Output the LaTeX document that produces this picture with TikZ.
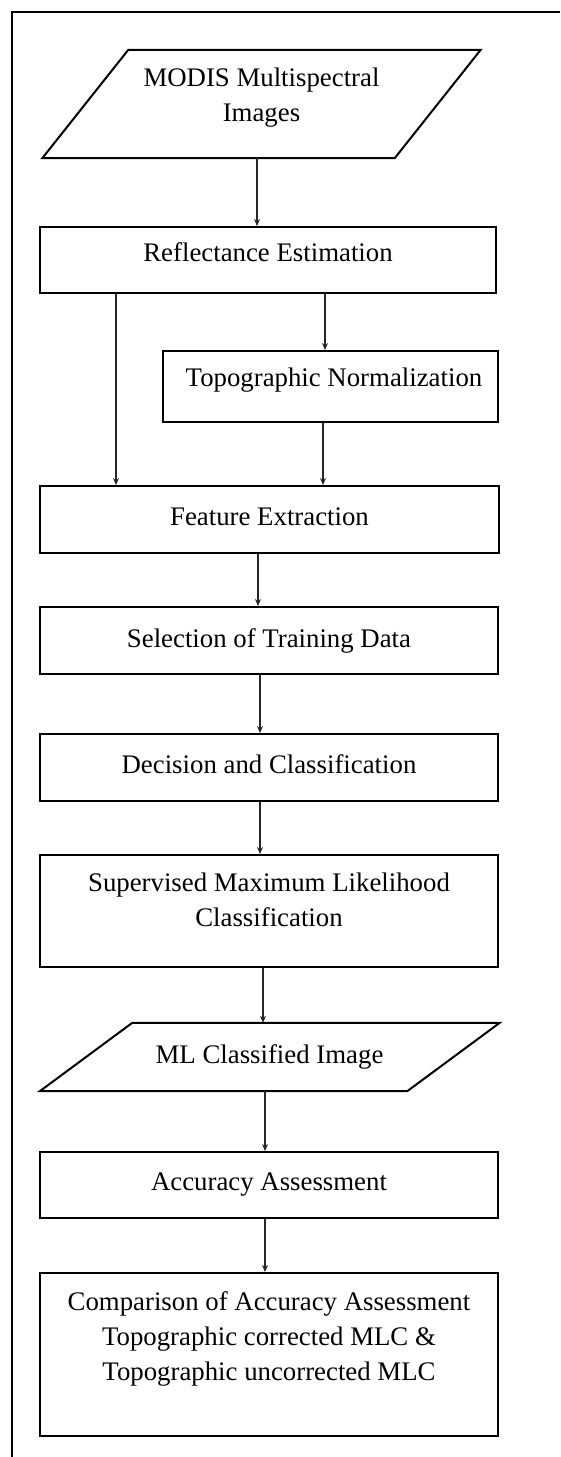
\documentclass[tikz,border=0pt]{standalone}
\usepackage{fontspec}
\setmainfont{Liberation Serif}
\usetikzlibrary{arrows.meta}
\newcommand\stagefont{\fontsize{26.8}{35}\selectfont}
\tikzset{
  stage/.style={draw, line width=2pt, minimum width=458pt, inner sep=0pt},
  io/.style={inner sep=0pt},
  txt/.style={align=center, font=\stagefont, inner sep=0pt},
  flow/.style={line width=1.4pt, draw=black!85, -{Stealth[length=7pt,width=6pt]}},
  frame/.style={line width=2pt}
}
\begin{document}
\begin{tikzpicture}[x=1pt, y=-1pt]
  \useasboundingbox (0,0) rectangle (560,1457);
  % Frame
  \draw[frame] (560,12) -- (12,12) -- (12,1457);
  % Nodes
  \node[io, minimum width=352pt, minimum height=108pt, label={[txt, yshift=6.5pt]center:MODIS Multispectral\\Images}] (modis) at (261.5,104) {};
  \node[stage, minimum width=456pt, minimum height=66pt, label={[txt, yshift=8pt]center:Reflectance Estimation}] (refl) at (268,260) {};
  \node[stage, minimum width=335pt, minimum height=71pt, label={[txt, yshift=6pt, xshift=3.5pt]center:Topographic Normalization}] (topo) at (330.5,386.5) {};
  \node[stage, minimum width=459pt, minimum height=67pt, label={[txt, yshift=2.5pt]center:Feature Extraction}] (feat) at (269.5,519.5) {};
  \node[stage, minimum height=67pt, label={[txt]center:Selection of Training Data}] (sel) at (269,640.5) {};
  \node[stage, minimum height=67pt, label={[txt, yshift=3.5pt]center:Decision and Classification}] (dec) at (269,767.5) {};
  \node[stage, minimum height=112pt, label={[txt, yshift=11pt]center:Supervised Maximum Likelihood\\Classification}] (sup) at (269,911) {};
  \node[io, minimum width=367pt, minimum height=68pt, label={[txt]center:ML Classified Image}] (ml) at (269.5,1057) {};
  \node[stage, minimum height=66pt, label={[txt]center:Accuracy Assessment}] (acc) at (269,1185) {};
  \node[stage, minimum height=163pt, label={[txt, yshift=16pt]center:Comparison of Accuracy Assessment\\Topographic corrected MLC \&\\Topographic uncorrected MLC}] (comp) at (269,1354.5) {};
  % Parallelograms
  \draw[line width=2pt] ([xshift=43pt]modis.north west) -- ([xshift=43pt]modis.north east)
    -- ([xshift=-43pt]modis.south east) -- ([xshift=-43pt]modis.south west) -- cycle;
  \draw[line width=2pt] ([xshift=46.5pt]ml.north west) -- ([xshift=46.5pt]ml.north east)
    -- ([xshift=-46pt]ml.south east) -- ([xshift=-46pt]ml.south west) -- cycle;
  % Edges
  \draw[flow] ([xshift=-4.5pt]modis.south) -- ([xshift=-4.5pt]modis.south |- refl.north);
  \draw[flow] ([xshift=-152pt]refl.south) -- ([xshift=-152pt]refl.south |- feat.north);
  \draw[flow] ([xshift=57pt]refl.south) -- ([xshift=57pt]refl.south |- topo.north);
  \draw[flow] ([xshift=-7.5pt]topo.south) -- ([xshift=-7.5pt]topo.south |- feat.north);
  \draw[flow] ([xshift=-11.5pt]feat.south) -- ([xshift=-11.5pt]feat.south |- sel.north);
  \draw[flow] ([xshift=-9pt]sel.south) -- ([xshift=-9pt]sel.south |- dec.north);
  \draw[flow] ([xshift=-9pt]dec.south) -- ([xshift=-9pt]dec.south |- sup.north);
  \draw[flow] ([xshift=-6pt]sup.south) -- ([xshift=-6pt]sup.south |- ml.north);
  \draw[flow] ([xshift=-4.5pt]ml.south) -- ([xshift=-4.5pt]ml.south |- acc.north);
  \draw[flow] ([xshift=-4pt]acc.south) -- ([xshift=-4pt]acc.south |- comp.north);
\end{tikzpicture}
\end{document}
